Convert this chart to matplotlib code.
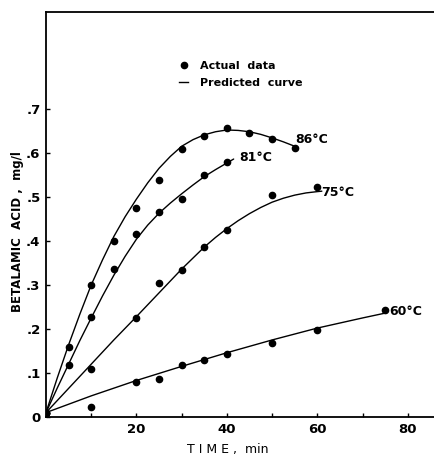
import matplotlib
matplotlib.use("Agg")
import matplotlib.pyplot as plt
from matplotlib.lines import Line2D

# Measured betalamic acid (mg/l) versus heating time (min)
t86 = [0, 5, 10, 15, 20, 25, 30, 35, 40, 45, 50, 55]
y86 = [0.01, 0.16, 0.30, 0.40, 0.474, 0.539, 0.609, 0.639, 0.657, 0.645, 0.631, 0.61]

t81 = [0, 5, 10, 15, 20, 25, 30, 35, 40]
y81 = [0.01, 0.117, 0.228, 0.336, 0.415, 0.466, 0.495, 0.549, 0.58]

t75 = [0, 10, 20, 25, 30, 35, 40, 50, 60]
y75 = [0.01, 0.109, 0.224, 0.304, 0.333, 0.387, 0.424, 0.504, 0.523]

t60 = [0, 10, 20, 25, 30, 35, 40, 50, 60, 75]
y60 = [0.01, 0.023, 0.079, 0.086, 0.117, 0.129, 0.143, 0.167, 0.197, 0.242]

# Predicted (model) curves
ct86 = [0, 2.5, 5, 7.5, 10, 12.5, 15, 17.5, 20, 22.5, 25, 27.5, 30, 32.5, 35,
        37.5, 40, 42.5, 45, 47.5, 50, 52.5, 55]
cy86 = [0.01, 0.089, 0.164, 0.234, 0.30, 0.357, 0.41, 0.455, 0.495, 0.532,
        0.565, 0.592, 0.615, 0.630, 0.641, 0.648, 0.652, 0.651, 0.648, 0.642,
        0.634, 0.625, 0.615]

ct81 = [0, 2.5, 5, 7.5, 10, 12.5, 15, 17.5, 20, 22.5, 25, 27.5, 30, 32.5, 35,
        37.5, 40, 41.5]
cy81 = [0.01, 0.066, 0.12, 0.174, 0.225, 0.275, 0.322, 0.365, 0.404, 0.436,
        0.463, 0.486, 0.507, 0.527, 0.546, 0.562, 0.577, 0.586]

ct75 = [0, 5, 10, 15, 20, 25, 30, 35, 37.5, 40, 42.5, 45, 47.5, 50, 52.5, 55,
        57.5, 60, 61]
cy75 = [0.01, 0.065, 0.12, 0.175, 0.228, 0.282, 0.336, 0.386, 0.408, 0.428,
        0.446, 0.462, 0.476, 0.488, 0.497, 0.504, 0.509, 0.512, 0.513]

ct60 = [0, 10, 20, 30, 40, 50, 60, 70, 75]
cy60 = [0.01, 0.048, 0.083, 0.115, 0.146, 0.175, 0.202, 0.225, 0.236]

curve_labels = ["86°C", "81°C", "75°C", "60°C"]
label_pos = [(55.2, 0.63), (42.8, 0.589), (60.8, 0.511), (76.0, 0.239)]

xticks = [0, 10, 20, 30, 40, 50, 60, 70, 80]
xticklabels = ["", "", "20", "", "40", "", "60", "", "80"]
yticks = [0, 0.1, 0.2, 0.3, 0.4, 0.5, 0.6, 0.7]
yticklabels = ["0", ".1", ".2", ".3", ".4", ".5", ".6", ".7"]

plt.rcParams["font.family"] = ["DejaVu Sans"]

fig = plt.figure(figsize=(4.34, 4.57), dpi=100)
ax = fig.add_axes([46 / 434, 40 / 457, 388 / 434, 405 / 457])

for ct, cy in [(ct86, cy86), (ct81, cy81), (ct75, cy75), (ct60, cy60)]:
    ax.plot(ct, cy, color="black", lw=1.0, solid_joinstyle="round",
            solid_capstyle="round")

for t, y in [(t86, y86), (t81, y81), (t75, y75), (t60, y60)]:
    ax.plot(t, y, "o", color="black", ms=4.5, mec="black", ls="none")

for lab, (lx, ly) in zip(curve_labels, label_pos):
    ax.text(lx, ly, lab, fontsize=9, fontweight="bold", ha="left", va="center")

ax.set_xlim(0, 85.8)
ax.set_ylim(0, 0.92)
ax.set_xticks(xticks)
ax.set_xticklabels(xticklabels)
ax.set_yticks(yticks)
ax.set_yticklabels(yticklabels)
ax.tick_params(direction="in", length=3, width=1.0, labelsize=9.5, pad=4)
for lbl in ax.get_xticklabels() + ax.get_yticklabels():
    lbl.set_fontweight("bold")

for side in ["left", "bottom", "top"]:
    ax.spines[side].set_linewidth(1.3)
ax.spines["right"].set_visible(False)

handles = [
    Line2D([], [], marker="o", color="black", ls="none", ms=4.5),
    Line2D([], [], color="black", lw=1.0),
]
ax.legend(handles, ["Actual  data", "Predicted  curve"], loc="upper left",
          bbox_to_anchor=(0.343, 0.879), frameon=False, borderpad=0,
          borderaxespad=0, handlelength=0.8, handletextpad=1.1,
          labelspacing=0.6, prop={"size": 8, "weight": "bold"})

fig.text(18 / 434, 1 - 232 / 457, "BETALAMIC  ACID ,  mg/l", rotation=90,
         ha="center", va="center", fontsize=8.5, fontweight="bold")
fig.text(228 / 434, 1 - 450 / 457, "T I M E ,  min", ha="center", va="center",
         fontsize=9)

fig.savefig("out.png", dpi=100)
